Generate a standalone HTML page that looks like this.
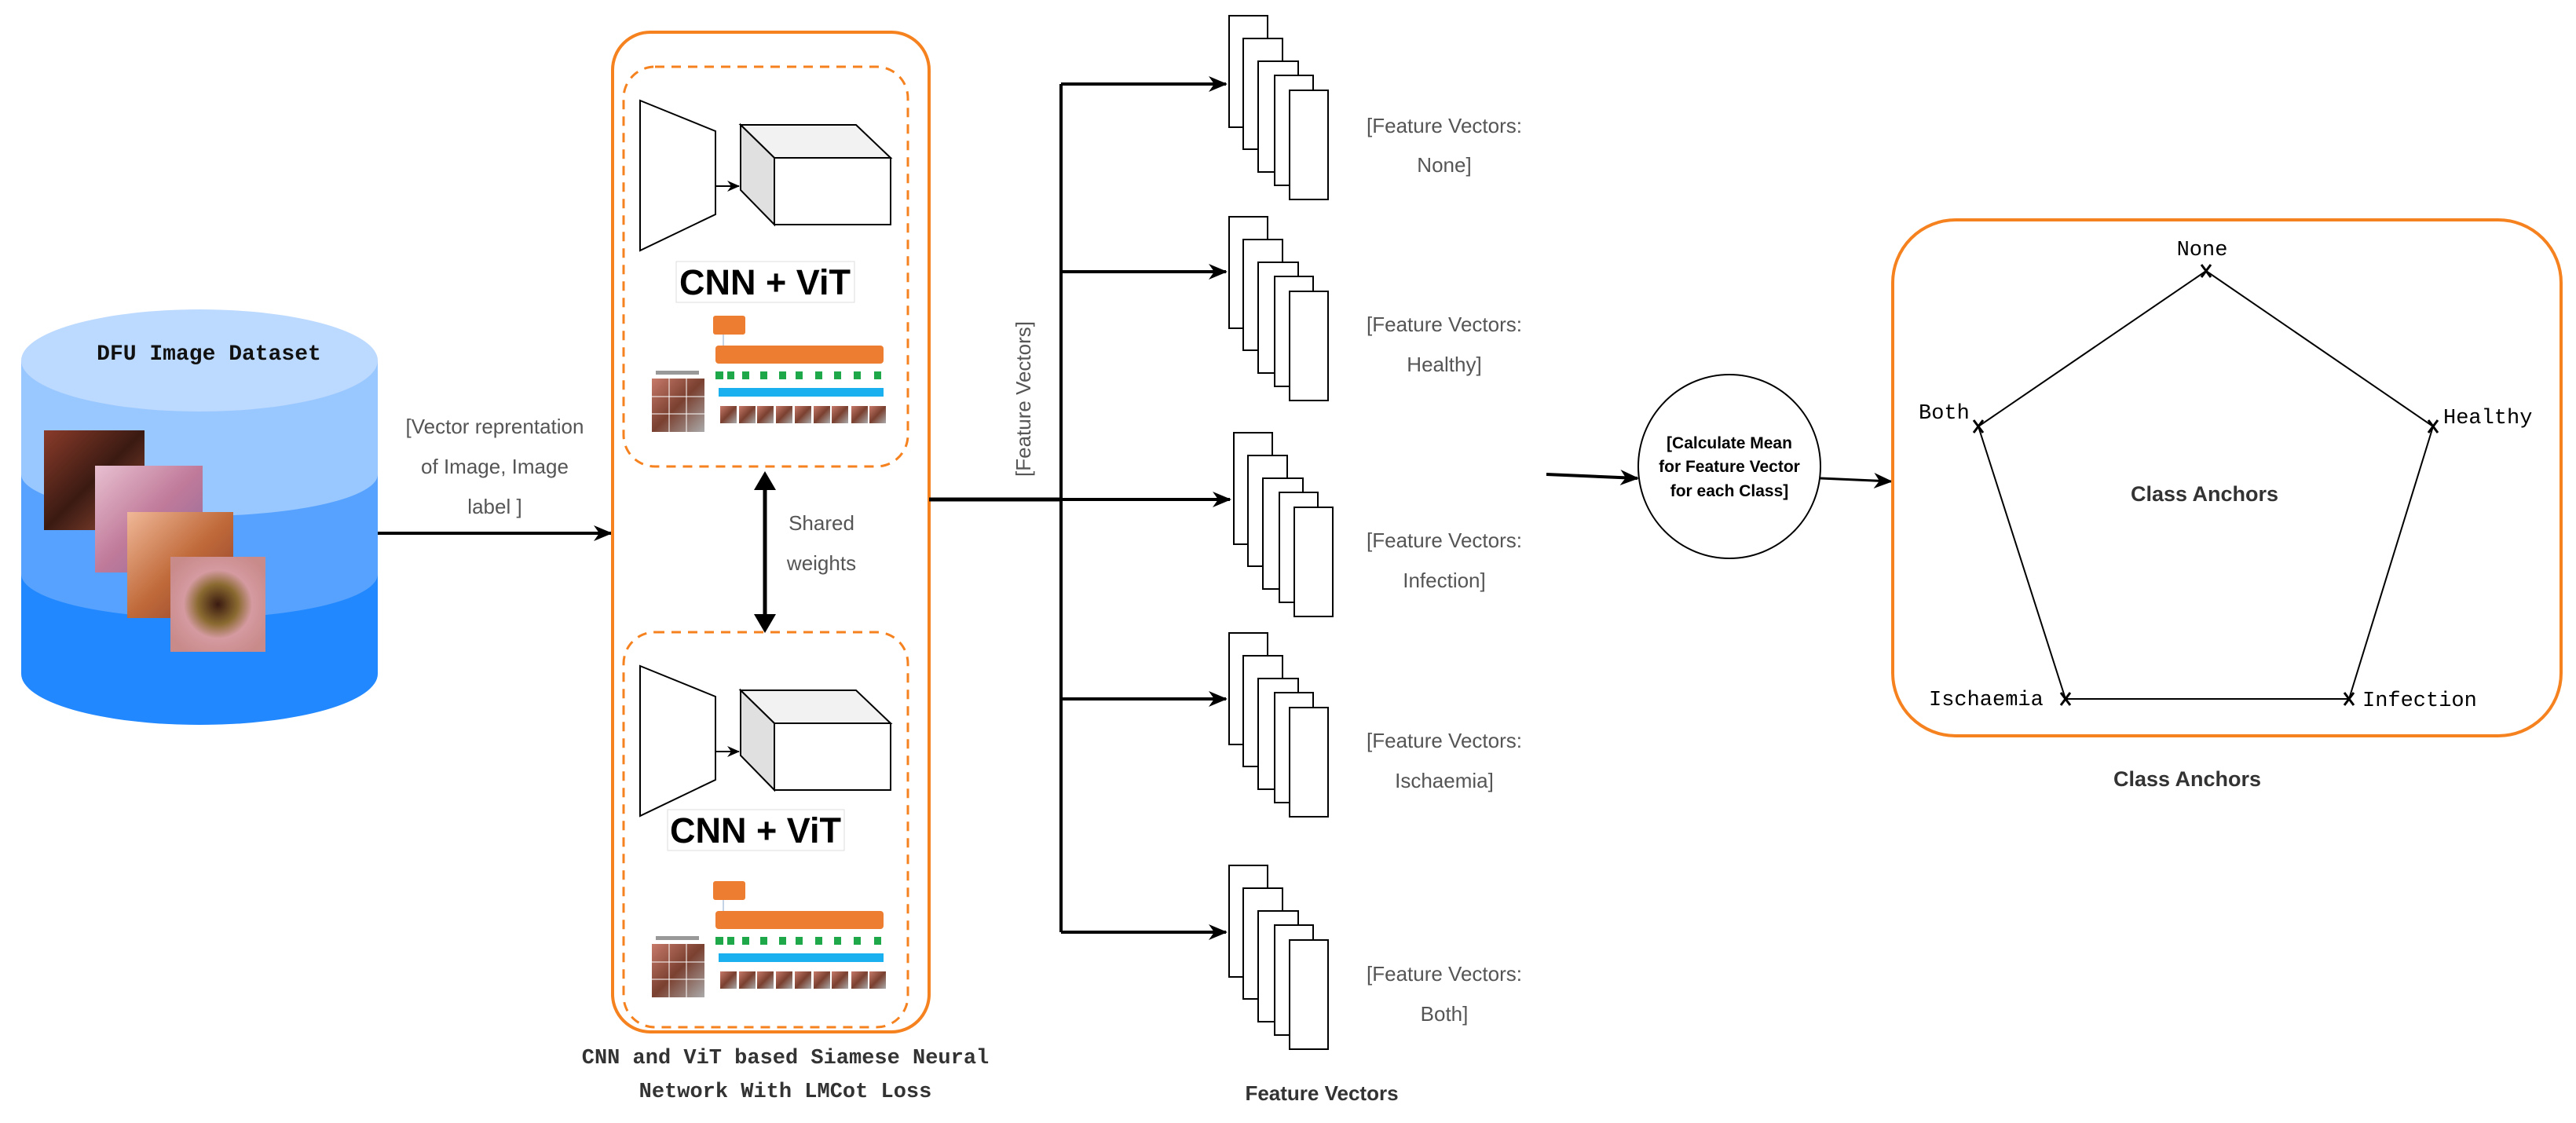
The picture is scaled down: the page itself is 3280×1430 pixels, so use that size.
<!DOCTYPE html>
<html><head><meta charset="utf-8"><style>html,body{margin:0;padding:0;background:#fff}svg{display:block}</style></head>
<body>
<svg width="3280" height="1430" viewBox="0 0 3280 1430" xmlns="http://www.w3.org/2000/svg">
<defs>
<marker id="ah" markerWidth="24" markerHeight="20" refX="22" refY="10" orient="auto" markerUnits="userSpaceOnUse" viewBox="0 0 24 20"><path d="M0,0 L24,10 L0,20 L7,10 z" fill="#000"/></marker>
<marker id="ahs" markerWidth="16" markerHeight="14" refX="15" refY="7" orient="auto" markerUnits="userSpaceOnUse" viewBox="0 0 16 14"><path d="M0,0 L16,7 L0,14 L5,7 z" fill="#000"/></marker>
<linearGradient id="p1" x1="0" y1="0" x2="1" y2="1"><stop offset="0" stop-color="#8a3b2a"/><stop offset=".5" stop-color="#3a1a12"/><stop offset="1" stop-color="#a0503a"/></linearGradient>
<linearGradient id="p2" x1="0" y1="0" x2="1" y2="1"><stop offset="0" stop-color="#e8c0d0"/><stop offset=".5" stop-color="#c07a9a"/><stop offset="1" stop-color="#8a6a9a"/></linearGradient>
<linearGradient id="p3" x1="0" y1="0" x2="1" y2="1"><stop offset="0" stop-color="#f0b898"/><stop offset=".5" stop-color="#c06a3a"/><stop offset="1" stop-color="#8a3a2a"/></linearGradient>
<radialGradient id="p4" cx=".5" cy=".5" r=".6"><stop offset="0" stop-color="#3a1a10"/><stop offset=".35" stop-color="#8a6a30"/><stop offset=".6" stop-color="#d49aa0"/><stop offset="1" stop-color="#c98a8a"/></radialGradient>
<linearGradient id="vp" x1="0" y1="0" x2="1" y2="1"><stop offset="0" stop-color="#c77a6a"/><stop offset=".5" stop-color="#7a4030"/><stop offset="1" stop-color="#aaa"/></linearGradient>
</defs>

<path d="M27,459 L27,858 A227,65 0 0 0 481,858 L481,459 Z" fill="#2288ff"/>
<path d="M27,459 L27,731 A227,56 0 0 0 481,731 L481,459 Z" fill="#57a2ff"/>
<path d="M27,459 L27,604 A227,53 0 0 0 481,604 L481,459 Z" fill="#99c7ff"/>
<ellipse cx="254" cy="459" rx="227" ry="65" fill="#bcd9ff"/>
<text x="266" y="458" text-anchor="middle" font-family="Liberation Mono, monospace" font-weight="bold" font-size="28" fill="#111">DFU Image Dataset</text>
<rect x="56" y="548" width="128" height="127" fill="url(#p1)"/>
<rect x="121" y="593" width="137" height="136" fill="url(#p2)"/>
<rect x="162" y="652" width="135" height="135" fill="url(#p3)"/>
<rect x="217" y="709" width="121" height="121" fill="url(#p4)"/>

<line x1="481" y1="679" x2="778" y2="679" stroke="#000" stroke-width="4" marker-end="url(#ah)"/>
<g font-family="Liberation Sans, Arial, sans-serif" font-size="26" fill="#555" text-anchor="middle">
<text x="630" y="552">[Vector reprentation</text>
<text x="630" y="603">of Image, Image</text>
<text x="630" y="654">label ]</text>
</g>

<rect x="780" y="41" width="403" height="1273" rx="48" fill="none" stroke="#f5821f" stroke-width="4"/>
<rect x="794" y="85" width="362" height="509" rx="40" fill="none" stroke="#f5821f" stroke-width="3" stroke-dasharray="12,9"/>
<rect x="794" y="805" width="362" height="503" rx="40" fill="none" stroke="#f5821f" stroke-width="3" stroke-dasharray="12,9"/>

<g id="mod1">
<polygon points="815,128 911,167 911,273 815,319" fill="#fff" stroke="#000" stroke-width="2"/>
<polygon points="943,159 1090,159 1134,201 986,201" fill="#f2f2f2" stroke="#000" stroke-width="2"/>
<polygon points="943,159 986,201 986,286 943,242" fill="#e0e0e0" stroke="#000" stroke-width="2"/>
<rect x="986" y="201" width="148" height="85" fill="#fff" stroke="#000" stroke-width="2"/>
<line x1="911" y1="237" x2="941" y2="237" stroke="#000" stroke-width="2" marker-end="url(#ahs)"/>
</g>
<rect x="861" y="333" width="227" height="52" fill="#fff" stroke="#ddd" stroke-width="1"/>
<text x="974" y="375" text-anchor="middle" font-family="Liberation Sans, Arial, sans-serif" font-weight="bold" font-size="45" fill="#000">CNN + ViT</text>

<g id="vit1">
<rect x="908" y="402" width="41" height="24" rx="3" fill="#ed7d31"/>
<line x1="921" y1="426" x2="921" y2="440" stroke="#8ac" stroke-width="1"/>
<rect x="911" y="440" width="214" height="23" rx="4" fill="#ed7d31"/>
<g fill="#1ea84a">
<rect x="911" y="473" width="10" height="10"/><rect x="926" y="473" width="9" height="10"/><rect x="945" y="473" width="9" height="10"/><rect x="968" y="473" width="9" height="10"/><rect x="992" y="473" width="9" height="10"/><rect x="1013" y="473" width="9" height="10"/><rect x="1038" y="473" width="9" height="10"/><rect x="1062" y="473" width="9" height="10"/><rect x="1087" y="473" width="9" height="10"/><rect x="1113" y="473" width="9" height="10"/>
</g>
<rect x="915" y="494" width="210" height="11" fill="#1ab0f0"/>
<g fill="url(#vp)">
<rect x="917" y="517" width="21" height="22"/><rect x="941" y="517" width="21" height="22"/><rect x="964" y="517" width="21" height="22"/><rect x="988" y="517" width="21" height="22"/><rect x="1012" y="517" width="21" height="22"/><rect x="1036" y="517" width="21" height="22"/><rect x="1059" y="517" width="21" height="22"/><rect x="1084" y="517" width="21" height="22"/><rect x="1107" y="517" width="21" height="22"/>
</g>
<rect x="830" y="482" width="67" height="68" fill="url(#vp)"/>
<path d="M852,482 V550 M874,482 V550 M830,505 H897 M830,527 H897" stroke="#fff" stroke-width="1"/>
<rect x="835" y="472" width="55" height="5" fill="#999"/>
</g>

<use href="#mod1" transform="translate(0,720)"/>
<rect x="850" y="1031" width="225" height="52" fill="#fff" stroke="#ddd" stroke-width="1"/>
<text x="962" y="1073" text-anchor="middle" font-family="Liberation Sans, Arial, sans-serif" font-weight="bold" font-size="45" fill="#000">CNN + ViT</text>
<use href="#vit1" transform="translate(0,720)"/>

<line x1="974" y1="612" x2="974" y2="794" stroke="#000" stroke-width="5"/>
<path d="M974,600 L960,624 L988,624 Z M974,806 L960,782 L988,782 Z" fill="#000"/>
<g font-family="Liberation Sans, Arial, sans-serif" font-size="26" fill="#555" text-anchor="middle">
<text x="1046" y="675">Shared</text>
<text x="1046" y="726">weights</text>
</g>

<g font-family="Liberation Mono, monospace" font-weight="bold" font-size="27" fill="#333" text-anchor="middle">
<text x="1000" y="1354">CNN and ViT based Siamese Neural</text>
<text x="1000" y="1397">Network With LMCot Loss</text>
</g>

<line x1="1183" y1="636" x2="1351" y2="636" stroke="#000" stroke-width="5"/>
<line x1="1351" y1="107" x2="1351" y2="1187" stroke="#000" stroke-width="4"/>
<g stroke="#000" stroke-width="4" marker-end="url(#ah)">
<line x1="1351" y1="107" x2="1561" y2="107"/>
<line x1="1351" y1="346" x2="1561" y2="346"/>
<line x1="1351" y1="636" x2="1566" y2="636"/>
<line x1="1351" y1="890" x2="1561" y2="890"/>
<line x1="1351" y1="1187" x2="1561" y2="1187"/>
</g>
<text transform="translate(1312,508) rotate(-90)" text-anchor="middle" font-family="Liberation Sans, Arial, sans-serif" font-size="26" fill="#555">[Feature Vectors]</text>

<g id="stk" fill="#fff" stroke="#000" stroke-width="2">
<rect x="1565" y="20" width="49" height="142"/>
<rect x="1583" y="49" width="50" height="141"/>
<rect x="1602" y="78" width="51" height="141"/>
<rect x="1623" y="96" width="49" height="140"/>
<rect x="1642" y="115" width="49" height="139"/>
</g>
<use href="#stk" transform="translate(0,256)"/>
<use href="#stk" transform="translate(6,531)"/>
<use href="#stk" transform="translate(0,786)"/>
<use href="#stk" transform="translate(0,1082)"/>
<g font-family="Liberation Sans, Arial, sans-serif" font-size="26" fill="#555" text-anchor="middle">
<text x="1839" y="169">[Feature Vectors:</text><text x="1839" y="219">None]</text>
<text x="1839" y="422">[Feature Vectors:</text><text x="1839" y="473">Healthy]</text>
<text x="1839" y="697">[Feature Vectors:</text><text x="1839" y="748">Infection]</text>
<text x="1839" y="952">[Feature Vectors:</text><text x="1839" y="1003">Ischaemia]</text>
<text x="1839" y="1249">[Feature Vectors:</text><text x="1839" y="1300">Both]</text>
</g>
<text x="1683" y="1401" text-anchor="middle" font-family="Liberation Sans, Arial, sans-serif" font-weight="bold" font-size="26" fill="#333">Feature Vectors</text>

<line x1="1969" y1="604" x2="2085" y2="609" stroke="#000" stroke-width="4" marker-end="url(#ah)"/>
<ellipse cx="2202" cy="594" rx="116" ry="117" fill="#fff" stroke="#000" stroke-width="2"/>
<g font-family="Liberation Sans, Arial, sans-serif" font-weight="bold" font-size="21" fill="#000" text-anchor="middle">
<text x="2202" y="571">[Calculate Mean</text>
<text x="2202" y="601">for Feature Vector</text>
<text x="2202" y="632">for each Class]</text>
</g>
<line x1="2318" y1="609" x2="2408" y2="613" stroke="#000" stroke-width="3" marker-end="url(#ah)"/>

<rect x="2410" y="280" width="851" height="657" rx="80" fill="none" stroke="#f5821f" stroke-width="4"/>
<polygon points="2809,345 3098,543 2991,890 2630,890 2519,543" fill="none" stroke="#000" stroke-width="2"/>
<g stroke="#000" stroke-width="3">
<path d="M2803,337 l12,16 M2815,337 l-12,16"/>
<path d="M2513,535 l12,16 M2525,535 l-12,16"/>
<path d="M3092,535 l12,16 M3104,535 l-12,16"/>
<path d="M2624,882 l12,16 M2636,882 l-12,16"/>
<path d="M2985,882 l12,16 M2997,882 l-12,16"/>
</g>
<g font-family="Liberation Mono, monospace" font-size="27" fill="#000">
<text x="2804" y="325" text-anchor="middle">None</text>
<text x="2443" y="533">Both</text>
<text x="3111" y="539">Healthy</text>
<text x="2456" y="898">Ischaemia</text>
<text x="3008" y="899">Infection</text>
</g>
<text x="2807" y="638" text-anchor="middle" font-family="Liberation Sans, Arial, sans-serif" font-weight="bold" font-size="27" fill="#333">Class Anchors</text>
<text x="2785" y="1001" text-anchor="middle" font-family="Liberation Sans, Arial, sans-serif" font-weight="bold" font-size="27" fill="#333">Class Anchors</text>
</svg>
</body></html>
